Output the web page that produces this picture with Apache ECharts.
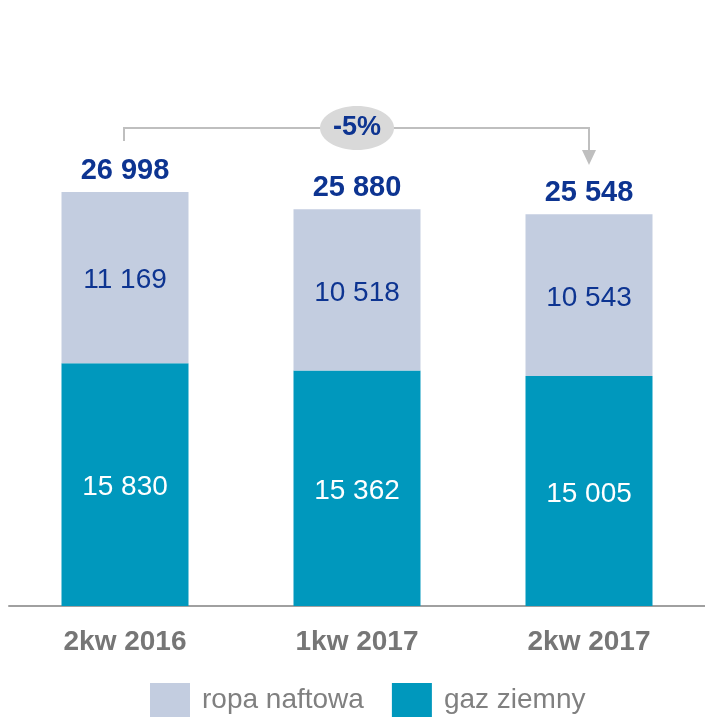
<!DOCTYPE html>
<html>
<head>
<meta charset="utf-8">
<script src="https://cdn.jsdelivr.net/npm/echarts@6/dist/echarts.min.js"></script>
<style>
html,body{margin:0;padding:0;background:#fff;}
#chart{width:705px;height:719px;}
</style>
</head>
<body>
<div id="chart"></div>
<script>
// dane
var categories = ['2kw 2016', '1kw 2017', '2kw 2017'];
var gazZiemny = [15830, 15362, 15005];
var ropaNaftowa = [11169, 10518, 10543];
var totals = [26998, 25880, 25548];
var changeLabel = '-5%';

function fmt(v) {
    return String(v).replace(/\B(?=(\d{3})+(?!\d))/g, ' ');
}

var FONT = '"Liberation Sans", Arial, sans-serif';
var chart = echarts.init(document.getElementById('chart'));

var option = {
    animation: false,
    textStyle: {fontFamily: FONT},
    grid: {left: 9, width: 699, top: 146, height: 460},
    legend: {
        data: ['ropa naftowa', 'gaz ziemny'],
        left: 150,
        top: 683,
        padding: 0,
        itemWidth: 40,
        itemHeight: 34,
        itemGap: 28,
        icon: 'rect',
        textStyle: {color: '#808080', fontSize: 28, fontFamily: FONT, padding: [0, 0, 0, 7]}
    },
    xAxis: {
        type: 'category',
        data: categories,
        axisLine: {lineStyle: {color: '#a0a0a0', width: 2}},
        axisTick: {show: false},
        axisLabel: {color: '#767676', fontSize: 28, fontWeight: 'bold', margin: 22, fontFamily: FONT}
    },
    yAxis: {
        type: 'value',
        min: 0,
        max: 30000,
        show: false,
        splitLine: {show: false}
    },
    series: [
        {
            name: 'gaz ziemny',
            type: 'bar',
            stack: 'a',
            barWidth: 127,
            data: gazZiemny,
            itemStyle: {color: '#0098bd'},
            label: {
                show: true,
                position: 'inside',
                offset: [0, 3],
                color: '#ffffff',
                fontSize: 28,
                fontFamily: FONT,
                formatter: function (p) { return fmt(p.value); }
            }
        },
        {
            name: 'ropa naftowa',
            type: 'bar',
            stack: 'a',
            barWidth: 127,
            data: ropaNaftowa,
            itemStyle: {color: '#c3cde0'},
            label: {
                show: true,
                position: 'inside',
                offset: [0, 3],
                color: '#0d3491',
                fontSize: 28,
                fontFamily: FONT,
                formatter: function (p) { return fmt(p.value); }
            }
        },
        {
            name: 'suma',
            type: 'bar',
            stack: 'a',
            barWidth: 127,
            data: totals.map(function () { return 0; }),
            itemStyle: {color: 'transparent'},
            label: {
                show: true,
                position: 'top',
                distance: 7,
                color: '#0d3491',
                fontSize: 29,
                fontWeight: 'bold',
                fontFamily: FONT,
                formatter: function (p) { return fmt(totals[p.dataIndex]); }
            }
        }
    ]
};
chart.setOption(option);

// strzałka zmiany -5%
var xFirst = chart.convertToPixel({xAxisIndex: 0}, categories[0]);
var xLast = chart.convertToPixel({xAxisIndex: 0}, categories[2]);
var yLine = 128;
var yLeftEnd = 141;
var yArrowTip = 165;
var lineStyle = {stroke: '#bfbfbf', lineWidth: 2, fill: null};
chart.setOption({
    graphic: [
        {
            type: 'polyline',
            shape: {points: [[xFirst - 1, yLeftEnd], [xFirst - 1, yLine], [xLast, yLine], [xLast, yArrowTip - 14]]},
            style: lineStyle,
            z: 10
        },
        {
            type: 'polygon',
            shape: {points: [[xLast - 7, yArrowTip - 15], [xLast + 7, yArrowTip - 15], [xLast, yArrowTip]]},
            style: {fill: '#bfbfbf'},
            z: 10
        },
        {
            type: 'ellipse',
            shape: {cx: (xFirst + xLast) / 2, cy: yLine, rx: 37, ry: 22},
            style: {fill: '#d9d9d9'},
            z: 11
        },
        {
            type: 'text',
            x: (xFirst + xLast) / 2,
            y: yLine,
            style: {
                text: changeLabel,
                fill: '#0d3491',
                font: 'bold 27px ' + FONT,
                align: 'center',
                verticalAlign: 'middle'
            },
            z: 12
        }
    ]
});

window.addEventListener('resize', function () {
    chart.resize();
});
</script>
</body>
</html>
